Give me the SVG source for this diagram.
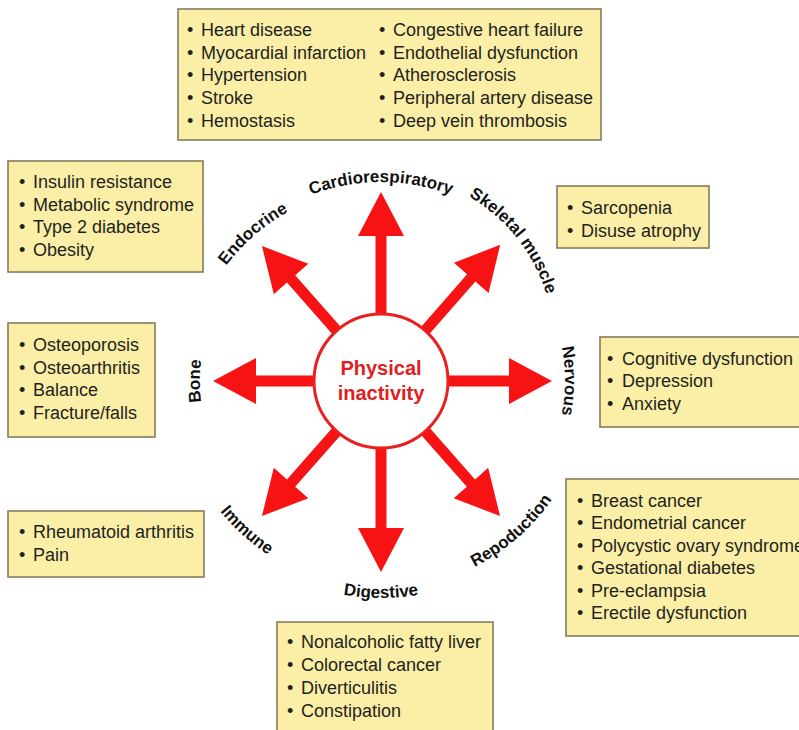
<svg xmlns="http://www.w3.org/2000/svg" xmlns:xlink="http://www.w3.org/1999/xlink" width="799" height="730" viewBox="0 0 799 730">
<style>
.box{fill:#fbefa7;stroke:#857c5e;stroke-width:1.6}
.bt{font-family:"Liberation Sans",Arial,sans-serif;font-size:18px;fill:#231f20}
.lbl{font-family:"Liberation Sans",Arial,sans-serif;font-size:17px;font-weight:bold;fill:#111}
.arr{fill:#f71313}
.ctr{font-family:"Liberation Sans",Arial,sans-serif;font-size:20px;font-weight:bold;fill:#e0201f}
</style>
<defs>
<path id="pCardio" d="M208.7,281.5 A199,199 0 0 1 553.3,281.5"/>
<path id="pSkel" d="M356.9,174.8 A172,172 0 0 1 541.9,408.3"/>
<path id="pNerv" d="M473,221.7 A184,184 0 0 1 473,540.3"/>
<path id="pBone" d="M290.5,537.8 A181,181 0 0 1 290.5,224.2"/>
<path id="pEndo" d="M191.6,417.8 A193,193 0 0 1 443.8,198.5"/>
<path id="pDig" d="M193.1,489.5 A217,217 0 0 0 568.9,489.5"/>
<path id="pImm" d="M178.5,338 A207,207 0 0 0 445,577.9"/>
<path id="pRep" d="M313.3,577.7 A208,208 0 0 0 585.2,341.3"/>
</defs>
<rect width="799" height="730" fill="#fff"/>
<g id="connectors">
<polygon class="arr" transform="translate(381,381) rotate(-90)" points="0,-5.5 145,-5.5 145,-23 189,0 145,23 145,5.5 0,5.5"/>
<polygon class="arr" transform="translate(381,381) rotate(90)" points="0,-5.5 147,-5.5 147,-23 191,0 147,23 147,5.5 0,5.5"/>
<polygon class="arr" transform="translate(381,381) rotate(0)" points="0,-5.5 128,-5.5 128,-23 171,0 128,23 128,5.5 0,5.5"/>
<polygon class="arr" transform="translate(381,381) rotate(180)" points="0,-5.5 125,-5.5 125,-23 168,0 125,23 125,5.5 0,5.5"/>
<polygon class="arr" transform="translate(381,381) rotate(-48.8)" points="0,-5.5 137,-5.5 137,-23 181,0 137,23 137,5.5 0,5.5"/>
<polygon class="arr" transform="translate(381,381) rotate(-131.4)" points="0,-5.5 136,-5.5 136,-23 180,0 136,23 136,5.5 0,5.5"/>
<polygon class="arr" transform="translate(381,381) rotate(48.6)" points="0,-5.5 136,-5.5 136,-23 180,0 136,23 136,5.5 0,5.5"/>
<polygon class="arr" transform="translate(381,381) rotate(131.4)" points="0,-5.5 136,-5.5 136,-23 180,0 136,23 136,5.5 0,5.5"/>
</g>
<g id="center">
<circle cx="381" cy="381" r="67" fill="#fff" stroke="#e8201f" stroke-width="3"/>
<text class="ctr" x="381" y="375" text-anchor="middle">Physical</text>
<text class="ctr" x="381" y="400" text-anchor="middle">inactivity</text>
</g>
<g id="labels">
<text class="lbl" text-anchor="middle"><textPath xlink:href="#pCardio" startOffset="50%">Cardiorespiratory</textPath></text>
<text class="lbl" text-anchor="middle"><textPath xlink:href="#pSkel" startOffset="50%">Skeletal muscle</textPath></text>
<text class="lbl" text-anchor="middle"><textPath xlink:href="#pNerv" startOffset="50%">Nervous</textPath></text>
<text class="lbl" text-anchor="middle"><textPath xlink:href="#pBone" startOffset="50%">Bone</textPath></text>
<text class="lbl" text-anchor="middle"><textPath xlink:href="#pEndo" startOffset="50%">Endocrine</textPath></text>
<text class="lbl" text-anchor="middle"><textPath xlink:href="#pDig" startOffset="50%">Digestive</textPath></text>
<text class="lbl" text-anchor="middle"><textPath xlink:href="#pImm" startOffset="50%">Immune</textPath></text>
<text class="lbl" text-anchor="middle"><textPath xlink:href="#pRep" startOffset="50%">Repoduction</textPath></text>
</g>
<g id="box-cardio">
<rect class="box" x="178" y="9" width="423" height="131"/>
<text class="bt" x="187" y="36">•<tspan x="201">Heart disease</tspan></text>
<text class="bt" x="187" y="58.7">•<tspan x="201">Myocardial infarction</tspan></text>
<text class="bt" x="187" y="81.4">•<tspan x="201">Hypertension</tspan></text>
<text class="bt" x="187" y="104">•<tspan x="201">Stroke</tspan></text>
<text class="bt" x="187" y="126.8">•<tspan x="201">Hemostasis</tspan></text>
<text class="bt" x="379" y="36">•<tspan x="393">Congestive heart failure</tspan></text>
<text class="bt" x="379" y="58.7">•<tspan x="393">Endothelial dysfunction</tspan></text>
<text class="bt" x="379" y="81.4">•<tspan x="393">Atherosclerosis</tspan></text>
<text class="bt" x="379" y="104">•<tspan x="393">Peripheral artery disease</tspan></text>
<text class="bt" x="379" y="126.8">•<tspan x="393">Deep vein thrombosis</tspan></text>
</g>
<g id="box-endocrine">
<rect class="box" x="8" y="161" width="195" height="111"/>
<text class="bt" x="19" y="188">•<tspan x="33">Insulin resistance</tspan></text>
<text class="bt" x="19" y="211">•<tspan x="33">Metabolic syndrome</tspan></text>
<text class="bt" x="19" y="233">•<tspan x="33">Type 2 diabetes</tspan></text>
<text class="bt" x="19" y="256">•<tspan x="33">Obesity</tspan></text>
</g>
<g id="box-skeletal">
<rect class="box" x="557" y="186" width="152" height="62"/>
<text class="bt" x="567" y="214">•<tspan x="581">Sarcopenia</tspan></text>
<text class="bt" x="567" y="237">•<tspan x="581">Disuse atrophy</tspan></text>
</g>
<g id="box-bone">
<rect class="box" x="8" y="323" width="147" height="114"/>
<text class="bt" x="19" y="351">•<tspan x="33">Osteoporosis</tspan></text>
<text class="bt" x="19" y="374">•<tspan x="33">Osteoarthritis</tspan></text>
<text class="bt" x="19" y="396">•<tspan x="33">Balance</tspan></text>
<text class="bt" x="19" y="419">•<tspan x="33">Fracture/falls</tspan></text>
</g>
<g id="box-nervous">
<rect class="box" x="600" y="337" width="205" height="90"/>
<text class="bt" x="607" y="365">•<tspan x="622">Cognitive dysfunction</tspan></text>
<text class="bt" x="607" y="387">•<tspan x="622">Depression</tspan></text>
<text class="bt" x="607" y="410">•<tspan x="622">Anxiety</tspan></text>
</g>
<g id="box-immune">
<rect class="box" x="8" y="511" width="196" height="66"/>
<text class="bt" x="19" y="538">•<tspan x="33">Rheumatoid arthritis</tspan></text>
<text class="bt" x="19" y="561">•<tspan x="33">Pain</tspan></text>
</g>
<g id="box-reproduction">
<rect class="box" x="566" y="479" width="240" height="157"/>
<text class="bt" x="577" y="507">•<tspan x="591">Breast cancer</tspan></text>
<text class="bt" x="577" y="529">•<tspan x="591">Endometrial cancer</tspan></text>
<text class="bt" x="577" y="552">•<tspan x="591">Polycystic ovary syndrome</tspan></text>
<text class="bt" x="577" y="574">•<tspan x="591">Gestational diabetes</tspan></text>
<text class="bt" x="577" y="597">•<tspan x="591">Pre-eclampsia</tspan></text>
<text class="bt" x="577" y="619">•<tspan x="591">Erectile dysfunction</tspan></text>
</g>
<g id="box-digestive">
<rect class="box" x="277" y="622" width="216" height="115"/>
<text class="bt" x="287" y="648">•<tspan x="301">Nonalcoholic fatty liver</tspan></text>
<text class="bt" x="287" y="671">•<tspan x="301">Colorectal cancer</tspan></text>
<text class="bt" x="287" y="694">•<tspan x="301">Diverticulitis</tspan></text>
<text class="bt" x="287" y="717">•<tspan x="301">Constipation</tspan></text>
</g>
</svg>
